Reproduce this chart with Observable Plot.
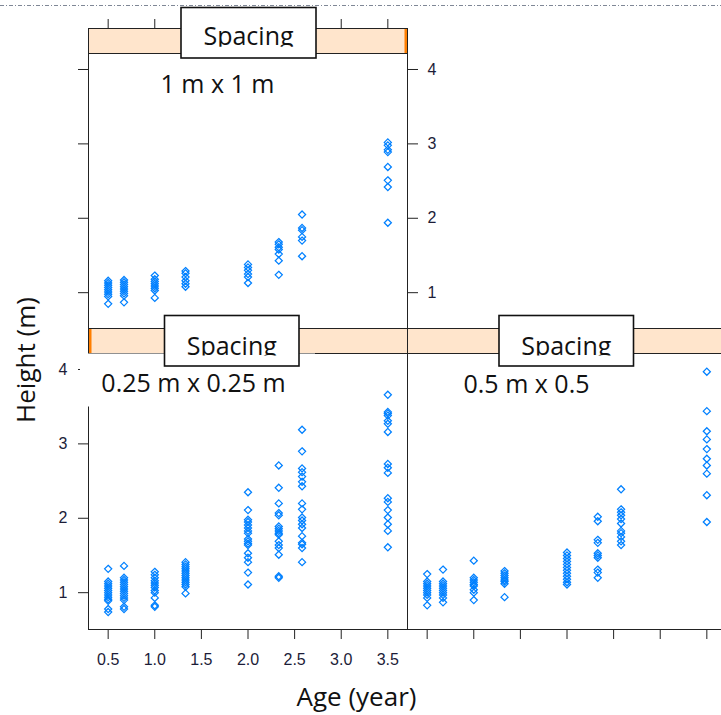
<!DOCTYPE html>
<html><head><meta charset="utf-8">
<script src="https://cdn.jsdelivr.net/npm/d3@7"></script>
<script src="https://cdn.jsdelivr.net/npm/@observablehq/plot@0.6"></script>
<style>
html,body{margin:0;padding:0;background:#fff;overflow:hidden}
#wrap{position:relative;width:721px;height:715px;overflow:hidden;background:#fff}
#wrap svg{position:absolute;left:0;top:0}
</style></head><body><div id="wrap"></div>
<script>
// ---- data ----
const ages = [0.5, 0.67, 1.0, 1.33, 2.0, 2.33, 2.58, 3.5];
const xTicks = [0.5, 1.0, 1.5, 2.0, 2.5, 3.0, 3.5];
const yTicks = [1, 2, 3, 4];
const panelLabels = ["1 m x 1 m", "0.25 m x 0.25 m", "0.5 m x 0.5"];
const stripTitle = "Spacing";
const xTitle = "Age (year)";
const yTitle = "Height (m)";

// heights (m) per age, spacing 1 m x 1 m
const height1m = [
  [1.16, 1.13, 1.10, 1.07, 1.04, 1.01, 0.98, 0.95, 0.85],
  [1.17, 1.14, 1.11, 1.08, 1.05, 1.02, 0.99, 0.96, 0.87],
  [1.23, 1.18, 1.15, 1.12, 1.09, 1.06, 1.03, 0.93],
  [1.29, 1.26, 1.21, 1.16, 1.12, 1.08],
  [1.38, 1.34, 1.30, 1.25, 1.21, 1.13],
  [1.68, 1.65, 1.61, 1.58, 1.52, 1.43, 1.24],
  [2.05, 1.87, 1.84, 1.75, 1.70, 1.49],
  [3.02, 2.98, 2.92, 2.89, 2.69, 2.51, 2.42, 1.94]
];
// spacing 0.25 m x 0.25 m
const height025m = [
  [1.32, 1.15, 1.12, 1.09, 1.06, 1.03, 1.00, 0.97, 0.94, 0.91, 0.89, 0.78, 0.74],
  [1.36, 1.20, 1.17, 1.14, 1.11, 1.08, 1.05, 1.02, 0.99, 0.96, 0.93, 0.90, 0.81, 0.78],
  [1.28, 1.24, 1.20, 1.16, 1.13, 1.10, 1.07, 1.03, 1.00, 0.93, 0.83, 0.81],
  [1.41, 1.38, 1.35, 1.32, 1.29, 1.26, 1.23, 1.20, 1.17, 1.14, 1.11, 1.08, 0.99],
  [2.35, 2.11, 1.98, 1.95, 1.91, 1.87, 1.83, 1.80, 1.72, 1.69, 1.66, 1.64, 1.53, 1.47, 1.41, 1.27, 1.11],
  [2.71, 2.41, 2.20, 2.07, 2.04, 1.89, 1.86, 1.83, 1.80, 1.78, 1.69, 1.64, 1.60, 1.51, 1.22, 1.20],
  [3.19, 2.90, 2.67, 2.62, 2.56, 2.49, 2.43, 2.20, 2.12, 2.01, 1.97, 1.92, 1.87, 1.76, 1.67, 1.65, 1.60, 1.41],
  [3.66, 3.43, 3.41, 3.38, 3.31, 3.27, 3.16, 2.73, 2.68, 2.61, 2.27, 2.22, 2.11, 2.01, 1.92, 1.83, 1.61]
];
// spacing 0.5 m x 0.5 m
const height05m = [
  [1.25, 1.15, 1.12, 1.09, 1.06, 1.03, 1.00, 0.97, 0.93, 0.83],
  [1.31, 1.15, 1.12, 1.09, 1.06, 1.03, 1.00, 0.97, 0.93, 0.87],
  [1.43, 1.20, 1.17, 1.14, 1.11, 1.09, 1.04, 1.00, 0.90],
  [1.29, 1.26, 1.23, 1.20, 1.17, 1.15, 1.12, 0.94],
  [1.54, 1.50, 1.46, 1.42, 1.38, 1.34, 1.30, 1.26, 1.22, 1.18, 1.14, 1.11],
  [2.02, 1.96, 1.71, 1.67, 1.53, 1.50, 1.47, 1.31, 1.27, 1.20],
  [2.39, 2.12, 2.08, 2.04, 1.99, 1.93, 1.83, 1.80, 1.75, 1.69, 1.64],
  [3.97, 3.44, 3.17, 3.06, 2.93, 2.80, 2.71, 2.60, 2.31, 1.95]
];

// ---- layout ----
const W = 721, H = 715;
const X_DOMAIN = [0.289, 3.711];
const Y_DOMAIN = [0.505, 4.551];
const P = {xL: 88, xM: 407, xR: 726, topStrip: 28, topPanel: 53, topBottom: 329,
           botStrip: 328, botPanel: 353, botBottom: 629};
const strokeCol = "#222";
const tickTextCol = "#1c1c38";
const stripFill = "#ffe5cc";
const stripMark = "#ff7f00";
const dotCol = "#0080ff";
const uiFont = "'Open Sans', 'Noto Sans', sans-serif";

const rows = h => h.flatMap((vals, i) => vals.map(v => ({age: ages[i], height: v})));

function panel({data, left, right, top, bottom, marks, yAxis = true}) {
  const width = Math.max(W, right);
  return Plot.plot({
    width, height: H,
    marginLeft: left, marginRight: width - right,
    marginTop: top, marginBottom: H - bottom,
    x: {domain: X_DOMAIN},
    y: yAxis ? {domain: Y_DOMAIN} : {domain: Y_DOMAIN, axis: null},
    style: {background: "transparent", fontFamily: "'Liberation Sans', Arial, sans-serif",
            fontSize: "16px", color: strokeCol, maxWidth: "none"},
    marks: [
      ...marks,
      Plot.frame({stroke: strokeCol}),
      Plot.dot(data, {x: "age", y: "height", symbol: "diamond2", r: 3.2,
                      stroke: dotCol, fill: "none", strokeWidth: 1.25})
    ]
  });
}

const fmtX = d3.format(".1f");
const fmtY = d3.format("d");
const blank = () => "";

const plotA = panel({
  data: rows(height1m), left: P.xL, right: P.xM, top: P.topStrip, bottom: P.topBottom,
  marks: [
    Plot.axisY(yTicks, {anchor: "left", tickSize: 10, tickFormat: blank, label: null}),
    Plot.axisY(yTicks, {anchor: "right", tickSize: 10, tickPadding: 10, tickFormat: fmtY,
                        fill: tickTextCol, label: null}),
    Plot.axisX(xTicks, {anchor: "top", tickSize: 10, tickFormat: blank, label: null})
  ]
});
const plotB = panel({
  data: rows(height025m), left: P.xL, right: P.xM, top: P.botStrip, bottom: P.botBottom,
  marks: [
    Plot.axisY(yTicks, {anchor: "left", tickSize: 10, tickPadding: 11, tickFormat: fmtY,
                        fill: tickTextCol, label: null}),
    Plot.axisX(xTicks, {anchor: "bottom", tickSize: 10, tickPadding: 14, tickFormat: fmtX,
                        fill: tickTextCol, label: null})
  ]
});
const plotC = panel({
  data: rows(height05m), left: P.xM, right: P.xR, top: P.botStrip, bottom: P.botBottom, yAxis: false,
  marks: [
    Plot.axisX(xTicks, {anchor: "bottom", tickSize: 10, tickFormat: blank, label: null})
  ]
});

const wrap = document.getElementById("wrap");
wrap.append(plotA, plotB, plotC);

// ---- overlay: strips, boxes, panel labels, axis titles ----
const svg = d3.create("svg").attr("width", W).attr("height", H)
  .attr("viewBox", `0 0 ${W} ${H}`).style("overflow", "hidden");

svg.append("line").attr("x1", 0).attr("x2", W).attr("y1", 5.5).attr("y2", 5.5)
  .attr("stroke", "#7f8796").attr("stroke-width", 1).attr("stroke-dasharray", "4 2 1 2");

function strip(x0, x1, y0, y1, markSide) {
  svg.append("rect").attr("x", x0 + 0.5).attr("y", y0 + 0.5).attr("width", x1 - x0)
    .attr("height", y1 - y0).attr("fill", stripFill).attr("stroke", strokeCol);
  if (markSide === "right")
    svg.append("rect").attr("x", x1 - 2.5).attr("y", y0 + 1).attr("width", 2.5)
      .attr("height", y1 - y0 - 1).attr("fill", stripMark);
  if (markSide === "left")
    svg.append("rect").attr("x", x0 + 1).attr("y", y0 + 1).attr("width", 2.5)
      .attr("height", y1 - y0 - 1).attr("fill", stripMark);
}
strip(P.xL, P.xM, P.topStrip, P.topPanel, "right");
strip(P.xL, P.xM, P.botStrip, P.botPanel, "left");
strip(P.xM, P.xR, P.botStrip, P.botPanel, null);

// white patch behind the bottom-left label
svg.append("rect").attr("x", 80).attr("y", 353.5).attr("width", 235).attr("height", 53)
  .attr("fill", "#fff");

const defs = svg.append("defs");
function box(id, x0, x1, y0, y1, textBase, clipY) {
  svg.append("rect").attr("x", x0).attr("y", y0).attr("width", x1 - x0).attr("height", y1 - y0)
    .attr("fill", "#fff").attr("stroke", "#111").attr("stroke-width", 1.6);
  defs.append("clipPath").attr("id", id).append("rect")
    .attr("x", x0).attr("y", y0).attr("width", x1 - x0).attr("height", clipY - y0);
  svg.append("text").attr("x", (x0 + x1) / 2).attr("y", textBase)
    .attr("text-anchor", "middle").attr("font-family", uiFont).attr("font-size", 25)
    .attr("fill", "#111").attr("clip-path", `url(#${id})`).text(stripTitle);
}
box("c1", 181, 316, 7.5, 58, 44.7, 46.7);
box("c2", 164.5, 299, 315.5, 366, 354.7, 355.5);
box("c3", 499, 633.5, 315.5, 366, 354.7, 355.5);

const labelPos = [[217.5, 92.7], [193.5, 391.7], [526.5, 393.3]];
panelLabels.forEach((t, i) => {
  svg.append("text").attr("x", labelPos[i][0]).attr("y", labelPos[i][1])
    .attr("text-anchor", "middle").attr("font-family", uiFont).attr("font-size", 25)
    .attr("fill", "#111").text(t);
});

svg.append("text").attr("transform", "translate(35,360) rotate(-90)")
  .attr("text-anchor", "middle").attr("font-family", uiFont).attr("font-size", 26)
  .attr("fill", "#111").text(yTitle);
svg.append("text").attr("x", 356.5).attr("y", 706)
  .attr("text-anchor", "middle").attr("font-family", uiFont).attr("font-size", 26)
  .attr("fill", "#111").text(xTitle);

wrap.append(svg.node());
</script></body></html>
